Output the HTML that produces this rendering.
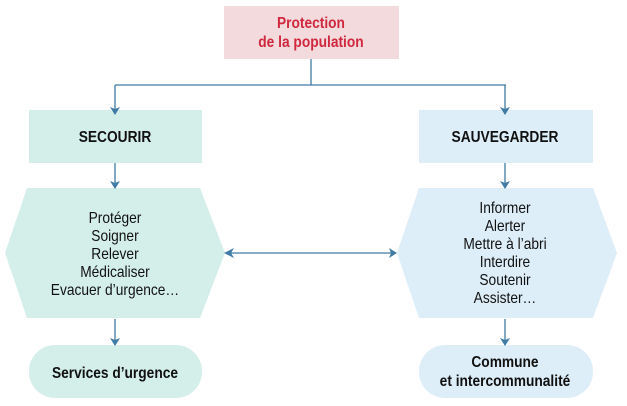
<!DOCTYPE html>
<html><head><meta charset="utf-8"><style>
body{margin:0;width:627px;height:401px;background:#fff;overflow:hidden}
svg text{font-family:"Liberation Sans",sans-serif;font-size:16px;text-anchor:middle}
</style></head><body>
<svg width="627" height="401" xmlns="http://www.w3.org/2000/svg">
<defs><marker id="a" markerWidth="8" markerHeight="10" refX="7" refY="5" orient="auto" markerUnits="userSpaceOnUse"><path d="M0,0 L8,5 L0,10 L2,5z" fill="#3f7ba5"/></marker></defs>
<rect x="224" y="6" width="175" height="53" fill="#f2dadd"/>
<rect x="29" y="110" width="173" height="53" fill="#d4efea"/>
<rect x="419" y="110" width="174" height="53" fill="#ddeef8"/>
<polygon points="27,188 200,188 225,253 200,318 27,318 5,253" fill="#d4efea"/>
<polygon points="419,188 593,188 617,253 593,318 419,318 397,253" fill="#ddeef8"/>
<rect x="29" y="345" width="173" height="53" rx="26" fill="#d4efea"/>
<rect x="419" y="345" width="174" height="53" rx="26" fill="#ddeef8"/>
<g stroke="#3f7ba5" stroke-width="1.3" fill="none">
<path d="M311,59 V85"/><path d="M115,85 H506"/>
<path d="M115,85 V114" marker-end="url(#a)"/><path d="M505,85 V114" marker-end="url(#a)"/>
<path d="M115,163 V188" marker-end="url(#a)"/><path d="M505,163 V188" marker-end="url(#a)"/>
<path d="M115,319 V345" marker-end="url(#a)"/><path d="M505,319 V345" marker-end="url(#a)"/>
<path d="M228,253 H396" marker-end="url(#a)"/>
</g>
<path d="M224,253 L234,248 L231,253 L234,258z" fill="#3f7ba5"/>
<g transform="scale(0.86,1)">
<g font-weight="bold" fill="#d0283e">
<text x="361.6" y="28">Protection</text><text x="361.6" y="47">de la population</text></g>
<g font-weight="bold" fill="#111">
<text x="133.7" y="142">SECOURIR</text><text x="587.2" y="142">SAUVEGARDER</text>
<text x="133.7" y="378">Services d’urgence</text>
<text x="587.2" y="367">Commune</text><text x="587.2" y="386">et intercommunalité</text></g>
<g fill="#111">
<text x="133.7" y="223">Protéger</text><text x="133.7" y="241">Soigner</text><text x="133.7" y="259">Relever</text><text x="133.7" y="277">Médicaliser</text><text x="133.7" y="295">Evacuer d’urgence…</text>
<text x="587.2" y="213">Informer</text><text x="587.2" y="231">Alerter</text><text x="587.2" y="249">Mettre à l’abri</text><text x="587.2" y="267">Interdire</text><text x="587.2" y="285">Soutenir</text><text x="587.2" y="303">Assister…</text></g>
</g>
</svg>
</body></html>
